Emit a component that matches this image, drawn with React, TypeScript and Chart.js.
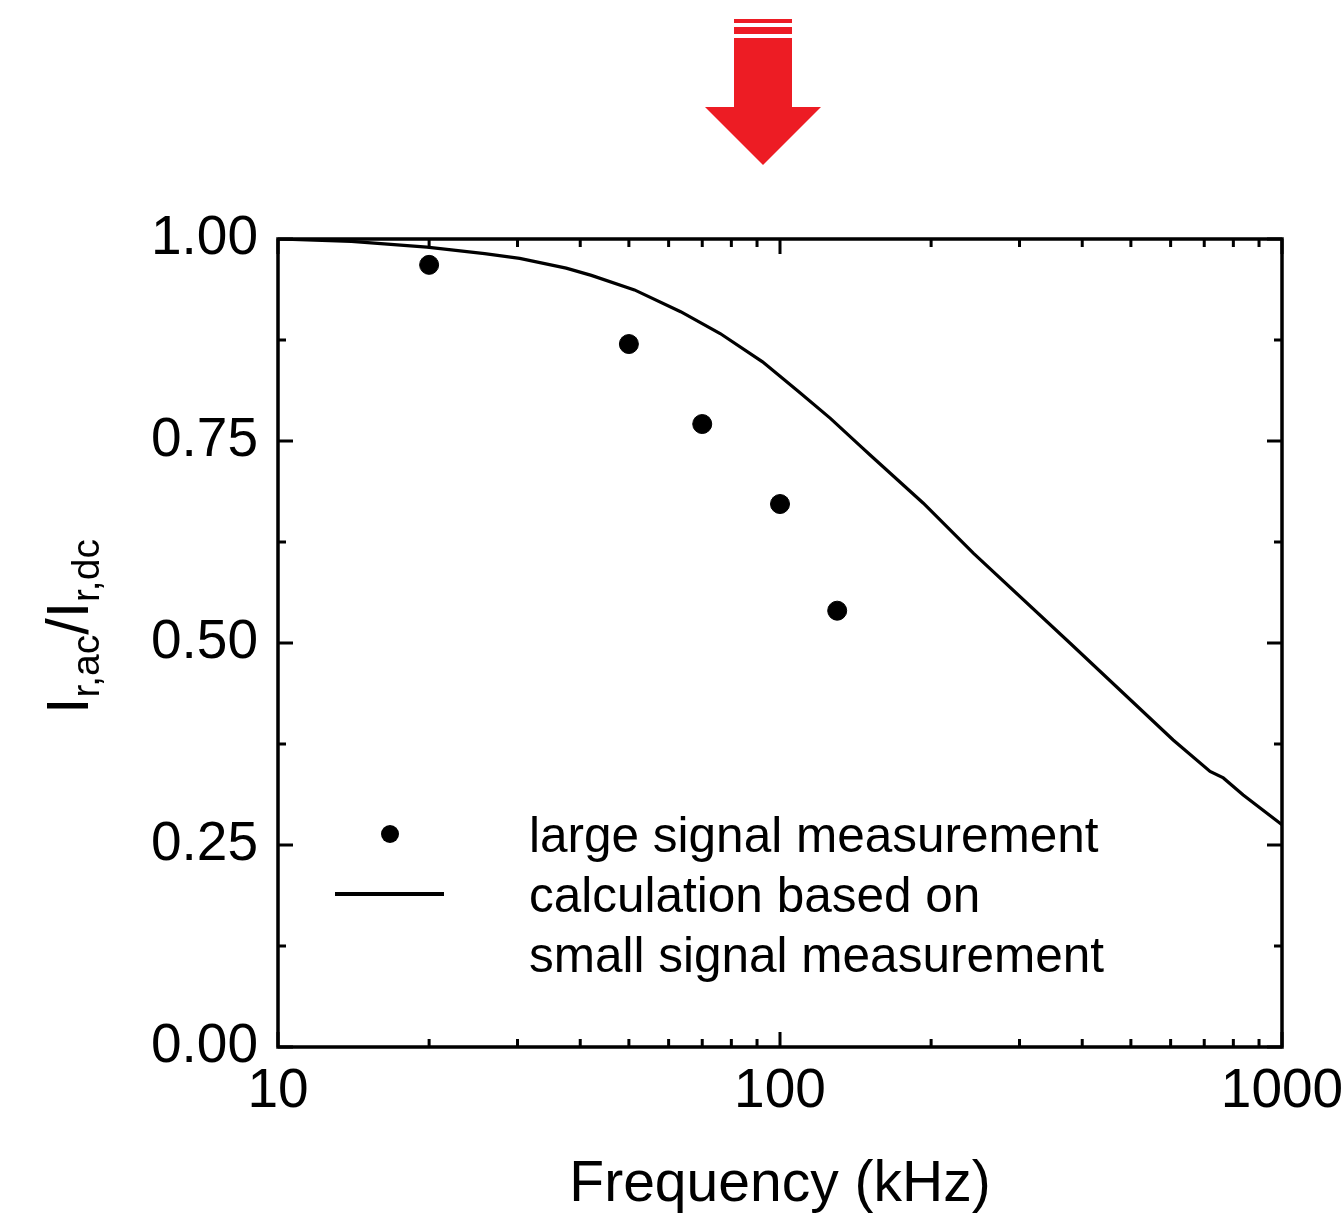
import React, { useEffect, useRef } from "react";
import { Chart, registerables } from "chart.js";

Chart.register(...registerables);

// ---------- data ----------
const X_MIN = 10;
const X_MAX = 1000;
const Y_MIN = 0;
const Y_MAX = 1;
const X_MAJOR_TICKS = [10, 100, 1000];
const X_MINOR_TICKS = [20, 30, 40, 50, 60, 70, 80, 90, 200, 300, 400, 500, 600, 700, 800, 900];
const Y_MAJOR_TICKS = [0, 0.25, 0.5, 0.75, 1.0];
const Y_MINOR_TICKS = [0.125, 0.375, 0.625, 0.875];

// large signal measurement (dots)
const LARGE_FREQ = [20, 50, 70, 100, 130];
const LARGE_RATIO = [0.968, 0.87, 0.771, 0.672, 0.54];

// calculation based on small signal measurement (line)
const CALC_FREQ = [10, 14, 19.8, 25.8, 30.3, 37.5, 42.1, 51.3, 63.4, 76, 92.3, 109, 126, 145, 151, 193, 243, 378, 607, 719, 764, 837, 1000];
const CALC_RATIO = [1.0, 0.997, 0.99, 0.982, 0.976, 0.964, 0.955, 0.937, 0.91, 0.883, 0.848, 0.811, 0.778, 0.743, 0.733, 0.673, 0.611, 0.5, 0.38, 0.341, 0.333, 0.312, 0.275];

const SERIES_LABELS = ["large signal measurement", "calculation based on\nsmall signal measurement"];
const X_TITLE = "Frequency (kHz)";
const Y_TITLE_PARTS = [
  { text: "I", sub: false },
  { text: "r,ac", sub: true },
  { text: "/", sub: false },
  { text: "I", sub: false },
  { text: "r,dc", sub: true },
];
const ARROW_FREQ = 92.5;

const FONT = "'Liberation Sans', Arial, sans-serif";
const ARROW_COLOR = "#ED1C24";

const decorPlugin = {
  id: "decor",
  afterDatasetsDraw(chart: any) {
    const ctx = chart.ctx;
    const { left, right, top, bottom } = chart.chartArea;
    const xs = chart.scales.x;
    const ys = chart.scales.y;
    ctx.save();
    ctx.strokeStyle = "#000";
    ctx.lineWidth = 3.5;
    ctx.strokeRect(left, top, right - left, bottom - top);
    ctx.lineWidth = 3;
    const MAJ = 15;
    const MIN = 8;
    const xt = (v: number, len: number) => {
      const px = xs.getPixelForValue(v);
      ctx.beginPath();
      ctx.moveTo(px, bottom);
      ctx.lineTo(px, bottom - len);
      ctx.moveTo(px, top);
      ctx.lineTo(px, top + len);
      ctx.stroke();
    };
    const yt = (v: number, len: number) => {
      const py = ys.getPixelForValue(v);
      ctx.beginPath();
      ctx.moveTo(left, py);
      ctx.lineTo(left + len, py);
      ctx.moveTo(right, py);
      ctx.lineTo(right - len, py);
      ctx.stroke();
    };
    X_MAJOR_TICKS.forEach((v) => xt(v, MAJ));
    X_MINOR_TICKS.forEach((v) => xt(v, MIN));
    Y_MAJOR_TICKS.forEach((v) => yt(v, MAJ));
    Y_MINOR_TICKS.forEach((v) => yt(v, MIN));
    ctx.restore();
  },
  afterDraw(chart: any) {
    const ctx = chart.ctx;
    const { left, right } = chart.chartArea;
    const xs = chart.scales.x;
    const ds = chart.data.datasets;
    ctx.save();

    // legend
    const textX = 529;
    ctx.fillStyle = "#000";
    ctx.font = `49.5px ${FONT}`;
    ctx.textAlign = "left";
    ctx.textBaseline = "alphabetic";
    ctx.beginPath();
    ctx.arc(390, 834, 9, 0, Math.PI * 2);
    ctx.fillStyle = ds[0].backgroundColor;
    ctx.fill();
    ctx.fillStyle = "#000";
    ctx.fillText(ds[0].label, textX, 852);
    ctx.beginPath();
    ctx.strokeStyle = ds[1].borderColor;
    ctx.lineWidth = 4;
    ctx.moveTo(335, 894);
    ctx.lineTo(444, 894);
    ctx.stroke();
    const lines = String(ds[1].label).split("\n");
    lines.forEach((ln, i) => ctx.fillText(ln, textX, 912 + i * 60));

    // x title
    ctx.font = `57px ${FONT}`;
    ctx.textAlign = "center";
    ctx.fillText(X_TITLE, (left + right) / 2, 1201);

    // y title with subscripts
    ctx.save();
    ctx.translate(88, 714);
    ctx.rotate(-Math.PI / 2);
    ctx.textAlign = "left";
    let cx = 0;
    Y_TITLE_PARTS.forEach((p) => {
      ctx.font = p.sub ? `39px ${FONT}` : `59px ${FONT}`;
      ctx.fillText(p.text, cx, p.sub ? 11 : 0);
      cx += ctx.measureText(p.text).width;
    });
    ctx.restore();

    // red arrow
    const ax = xs.getPixelForValue(ARROW_FREQ);
    ctx.fillStyle = ARROW_COLOR;
    ctx.fillRect(ax - 29, 19, 58, 4);
    ctx.fillRect(ax - 29, 27, 58, 7);
    ctx.beginPath();
    ctx.moveTo(ax - 29, 38);
    ctx.lineTo(ax + 29, 38);
    ctx.lineTo(ax + 29, 107);
    ctx.lineTo(ax + 58, 107);
    ctx.lineTo(ax, 165);
    ctx.lineTo(ax - 58, 107);
    ctx.lineTo(ax - 29, 107);
    ctx.closePath();
    ctx.fill();

    ctx.restore();
  },
};

export default function App() {
  const ref = useRef<HTMLCanvasElement | null>(null);
  useEffect(() => {
    if (!ref.current) return;
    const chart = new Chart(ref.current, {
      type: "scatter",
      data: {
        datasets: [
          {
            label: SERIES_LABELS[0],
            data: LARGE_FREQ.map((f, i) => ({ x: f, y: LARGE_RATIO[i] })),
            backgroundColor: "#000",
            borderColor: "#000",
            pointRadius: 9.5,
            pointHoverRadius: 9.5,
            showLine: false,
          },
          {
            label: SERIES_LABELS[1],
            data: CALC_FREQ.map((f, i) => ({ x: f, y: CALC_RATIO[i] })),
            backgroundColor: "#000",
            borderColor: "#000",
            borderWidth: 3.2,
            pointRadius: 0,
            showLine: true,
            tension: 0,
          },
        ],
      },
      options: {
        animation: false,
        responsive: false,
        devicePixelRatio: 1,
        layout: { padding: { top: 239, right: 60, bottom: 0, left: 0 } },
        plugins: { legend: { display: false }, tooltip: { enabled: false } },
        scales: {
          x: {
            type: "logarithmic",
            min: X_MIN,
            max: X_MAX,
            grid: { display: false, drawTicks: false },
            border: { display: false },
            afterBuildTicks: (s: any) => {
              s.ticks = X_MAJOR_TICKS.map((v) => ({ value: v, major: true }));
            },
            afterFit: (s: any) => {
              s.height = 168;
              s.paddingLeft = 0;
              s.paddingRight = 0;
            },
            ticks: {
              autoSkip: false,
              maxRotation: 0,
              padding: 12,
              color: "#000",
              font: { family: FONT, size: 55 },
              callback: (v: any) => String(v),
            },
          },
          y: {
            min: Y_MIN,
            max: Y_MAX,
            grid: { display: false, drawTicks: false },
            border: { display: false },
            afterBuildTicks: (s: any) => {
              s.ticks = Y_MAJOR_TICKS.map((v) => ({ value: v }));
            },
            afterFit: (s: any) => {
              s.width = 278;
              s.paddingTop = 0;
              s.paddingBottom = 0;
            },
            ticks: {
              padding: 20,
              color: "#000",
              font: { family: FONT, size: 55 },
              callback: (v: any) => Number(v).toFixed(2),
            },
          },
        },
      } as any,
      plugins: [decorPlugin],
    });
    return () => chart.destroy();
  }, []);
  return (
    <div style={{ position: "absolute", left: 0, top: 0, width: 1342, height: 1215, background: "#fff" }}>
      <canvas ref={ref} width={1342} height={1215} style={{ width: 1342, height: 1215, display: "block" }} />
    </div>
  );
}
